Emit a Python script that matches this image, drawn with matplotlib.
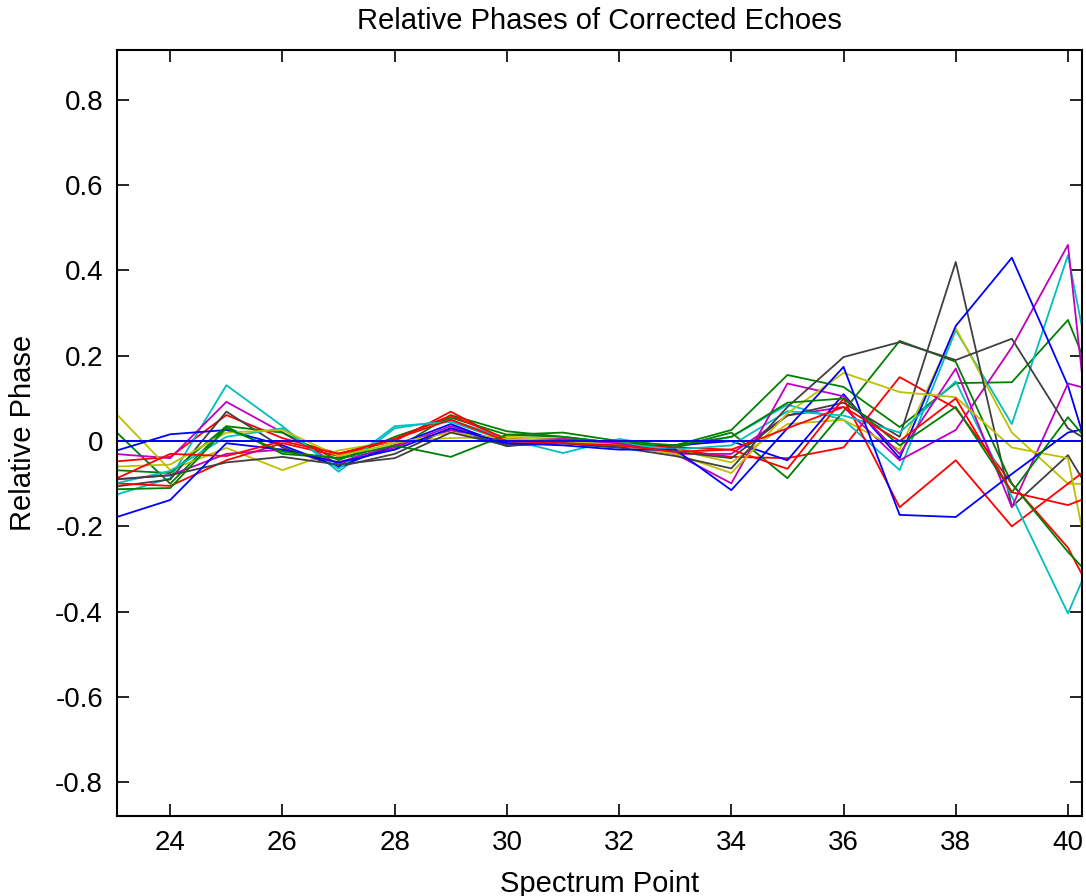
import numpy as np
import matplotlib
matplotlib.use("Agg")
import matplotlib.pyplot as plt

plt.rcParams['font.family'] = ['Liberation Sans', 'DejaVu Sans']
plt.rcParams['axes.unicode_minus'] = False

# spectrum points
points = list(range(23, 42))

# relative phase of each echo (x = 23 .. 41), MATLAB colour order
echo_ref = [0.0] * 19
echo_01 = [0.026, -0.100, 0.034, -0.030, -0.040, -0.020, 0.061, 0.023, 0.010, -0.005, -0.010, 0.026, 0.155, 0.127, 0.033, 0.136, 0.138, 0.284, -0.040]
echo_02 = [-0.048, -0.037, 0.061, 0.007, -0.029, 0.000, 0.069, 0.000, 0.005, -0.010, -0.020, -0.037, -0.040, -0.015, 0.150, 0.077, -0.100, -0.250, -0.500]
echo_03 = [-0.127, -0.087, 0.131, 0.035, -0.072, 0.030, 0.050, 0.005, -0.028, 0.005, -0.015, 0.010, 0.085, 0.050, -0.068, 0.260, 0.040, 0.436, -0.240]
echo_04 = [-0.030, -0.040, 0.092, 0.020, -0.055, -0.015, 0.035, -0.005, 0.000, -0.010, -0.030, -0.030, 0.060, 0.080, -0.045, 0.026, 0.220, 0.460, -0.750]
echo_05 = [0.069, -0.068, -0.016, -0.068, -0.022, 0.000, 0.007, 0.010, 0.005, -0.005, -0.020, -0.050, 0.040, 0.050, -0.020, 0.265, 0.020, -0.100, -0.100]
echo_06 = [-0.107, -0.090, 0.069, -0.015, -0.060, -0.030, 0.030, -0.012, 0.000, -0.010, -0.025, -0.040, 0.060, 0.090, 0.010, 0.420, -0.154, -0.033, -0.250]
echo_07 = [-0.024, 0.016, 0.026, -0.010, -0.060, -0.010, 0.040, -0.010, -0.005, -0.015, -0.010, 0.000, -0.045, 0.110, -0.040, 0.270, 0.430, 0.130, -0.300]
echo_08 = [-0.068, -0.075, 0.035, 0.020, -0.045, 0.010, 0.055, 0.015, 0.010, -0.005, -0.015, 0.020, -0.087, 0.070, 0.235, 0.186, -0.100, -0.260, -0.400]
echo_09 = [-0.099, -0.105, -0.045, -0.005, -0.035, 0.005, 0.060, 0.005, 0.000, -0.010, -0.015, -0.020, -0.065, 0.100, -0.155, -0.045, -0.200, -0.100, 0.000]
echo_10 = [-0.100, -0.070, 0.010, 0.030, -0.065, 0.035, 0.045, 0.000, -0.005, -0.005, -0.020, -0.010, 0.070, 0.060, 0.020, 0.140, -0.130, -0.404, -0.100]
echo_11 = [-0.090, -0.080, -0.030, -0.020, -0.050, -0.010, 0.025, 0.000, 0.005, -0.005, -0.030, -0.099, 0.135, 0.105, -0.030, 0.170, -0.155, 0.135, 0.100]
echo_12 = [-0.060, -0.055, 0.020, 0.026, -0.035, -0.005, 0.020, 0.005, 0.000, -0.010, -0.030, -0.075, 0.065, 0.160, 0.115, 0.103, -0.015, -0.040, -0.700]
echo_13 = [-0.090, -0.080, -0.050, -0.037, -0.055, -0.040, 0.020, -0.010, -0.005, -0.015, -0.035, -0.064, 0.080, 0.197, 0.232, 0.190, 0.240, 0.030, -0.050]
echo_14 = [-0.180, -0.138, -0.005, -0.020, -0.050, -0.020, 0.030, -0.005, -0.010, -0.020, -0.020, -0.115, 0.030, 0.174, -0.173, -0.178, -0.077, 0.020, 0.050]
echo_15 = [-0.113, -0.110, 0.030, -0.025, -0.040, -0.010, -0.037, 0.015, 0.020, 0.000, -0.010, 0.010, 0.090, 0.100, -0.010, 0.080, -0.120, 0.056, -0.100]
echo_16 = [-0.090, -0.030, -0.035, 0.000, -0.030, 0.005, 0.050, 0.000, -0.005, -0.010, -0.025, -0.020, 0.030, 0.080, 0.000, 0.100, -0.120, -0.150, -0.100]

echoes = [echo_ref, echo_01, echo_02, echo_03, echo_04, echo_05, echo_06, echo_07,
          echo_08, echo_09, echo_10, echo_11, echo_12, echo_13, echo_14, echo_15, echo_16]

# old MATLAB line colour order
colors = [(0, 0, 1), (0, 0.5, 0), (1, 0, 0), (0, 0.75, 0.75),
          (0.75, 0, 0.75), (0.75, 0.75, 0), (0.25, 0.25, 0.25)]

fig = plt.figure(figsize=(10.86, 8.96), dpi=100)
ax = fig.add_axes([0.1077, 0.0893, 0.8886, 0.8549])

for i, e in enumerate(echoes):
    ax.plot(points, e, color=colors[i % 7], lw=1.3)
# reference echo drawn on top
ax.plot(points, echo_ref, color=colors[0], lw=1.3)

ax.set_xlim(23.05, 40.25)
ax.set_ylim(-0.879, 0.917)
ax.set_xticks(np.arange(24, 41, 2))
ax.set_yticks(np.round(np.arange(-0.8, 0.81, 0.2), 1))
ax.set_yticklabels(['-0.8', '-0.6', '-0.4', '-0.2', '0', '0.2', '0.4', '0.6', '0.8'])

ax.tick_params(direction='in', length=8.5, width=1.2, top=True, right=True,
               labelsize=20, pad=10)
for s in ax.spines.values():
    s.set_linewidth(1.5)

ax.set_title('Relative Phases of Corrected Echoes', fontsize=21, pad=15)
ax.set_xlabel('Spectrum Point', fontsize=21, labelpad=10)
ax.set_ylabel('Relative Phase', fontsize=21, labelpad=13)

fig.savefig('out.png', dpi=100)
